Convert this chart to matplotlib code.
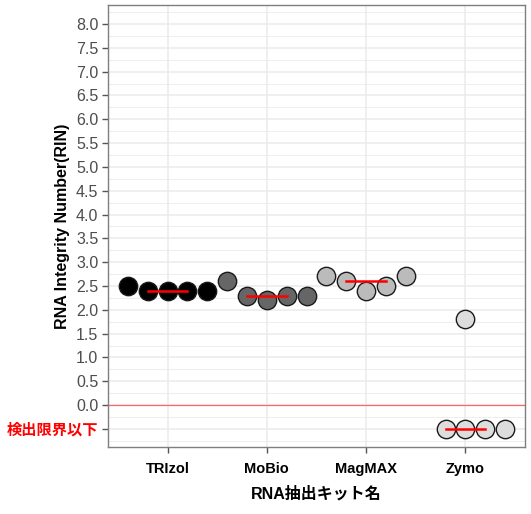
import matplotlib
matplotlib.use("Agg")
import matplotlib.pyplot as plt
import numpy as np

plt.rcParams['font.family'] = ['Liberation Sans', 'Noto Sans CJK JP', 'DejaVu Sans']

kits = ["TRIzol", "MoBio", "MagMAX", "Zymo"]
trizol = [2.5, 2.4, 2.4, 2.4, 2.4]
mobio = [2.6, 2.3, 2.2, 2.3, 2.3]
magmax = [2.7, 2.6, 2.4, 2.5, 2.7]
zymo = [1.8, -0.5, -0.5, -0.5, -0.5]
values = [trizol, mobio, magmax, zymo]
fill_colors = ["#000000", "#666666", "#bbbbbb", "#dddddd"]
ytick_vals = [-0.5] + [i * 0.5 for i in range(17)]
ytick_labels = ["検出限界以下"] + [f"{v:.1f}" for v in ytick_vals[1:]]

# swarm slots (layout)
slots = [[-2, -1, 0, 1, 2], [-2, -1, 0, 1, 2], [-2, -1, 0, 1, 2], [0, -1, 0, 1, 2]]
step = 0.2

fig = plt.figure(figsize=(5.31, 5.14), dpi=100)
ax = fig.add_axes([108/531, 1-447/514, 417/531, 442/514])

ax.set_xlim(0.4, 4.6)
ax.set_ylim(-0.88, 8.4)

# grid
for y in np.arange(-0.75, 8.4, 0.25):
    major = abs((y * 2) - round(y * 2)) < 1e-6
    ax.axhline(y, color="#ebebeb", lw=1.1 if major else 0.6, zorder=0)
for i in range(len(kits)):
    ax.axvline(i + 1, color="#ebebeb", lw=1.1, zorder=0)

ax.axhline(0, color="#ff6666", lw=0.9, zorder=1)

for i, (vals, c, sl) in enumerate(zip(values, fill_colors, slots)):
    xs = [i + 1 + s * step for s in sl]
    ax.scatter(xs, vals, s=175, facecolor=c, edgecolor="#1a1a1a", linewidth=1.0, zorder=3)
    med = np.median(vals)
    ax.plot([i + 1 - step, i + 1 + step], [med, med], color="red", lw=1.8, zorder=4)

ax.set_yticks(ytick_vals)
ax.set_yticklabels(ytick_labels)
for lab in ax.get_yticklabels():
    if lab.get_text() == "検出限界以下":
        lab.set_color("red")
        lab.set_fontweight("bold")
        lab.set_fontsize(11)
    else:
        lab.set_color("#4d4d4d")
        lab.set_fontsize(11.5)

ax.set_xticks(range(1, len(kits) + 1))
ax.set_xticklabels(kits, fontweight="bold", fontsize=10.5, color="black")
ax.tick_params(axis="both", length=4, width=1, color="#555555")
ax.tick_params(axis="x", pad=7)
ax.tick_params(axis="y", pad=3)
for sp in ax.spines.values():
    sp.set_color("#7f7f7f")
    sp.set_linewidth(1.0)

ax.set_ylabel("RNA Integrity Number(RIN)", fontweight="bold", fontsize=11.5)
ax.yaxis.set_label_coords((62 - 108) / 417, 0.5)
ax.set_xlabel("RNA抽出キット名", fontweight="bold", fontsize=11.5)
ax.xaxis.set_label_coords(0.5, -(494 - 447) / 442)
ax.xaxis.label.set_va("center")
ax.yaxis.label.set_va("center")

fig.savefig("out.png", dpi=100)
